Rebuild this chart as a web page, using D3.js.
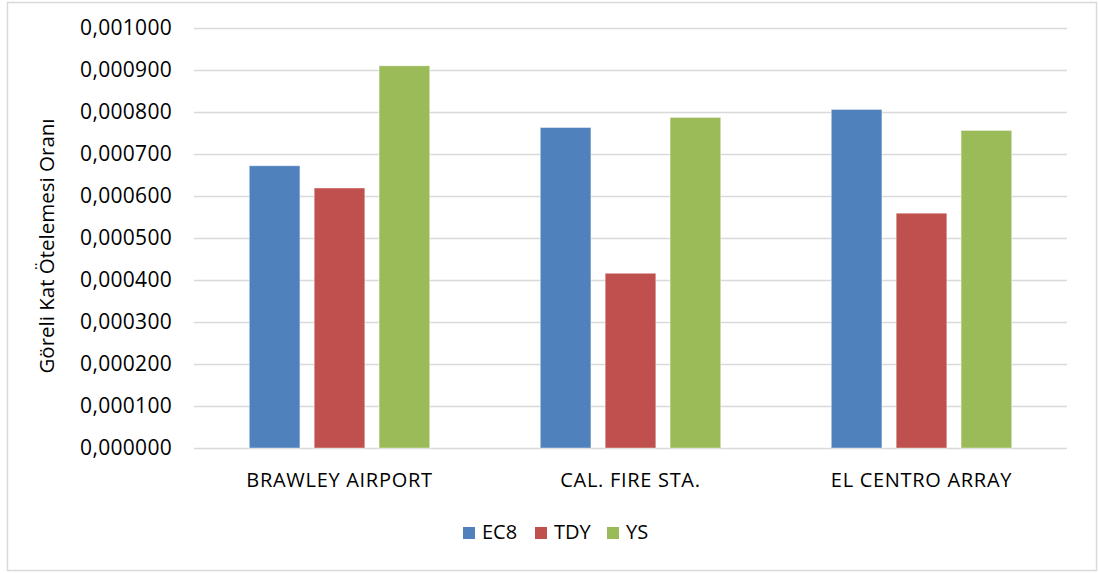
<!DOCTYPE html>
<html>
<head>
<meta charset="utf-8">
<script src="https://cdn.jsdelivr.net/npm/d3@7"></script>
<style>
  body { margin: 0; background: #fff; }
  svg { display: block; font-family: "Open Sans", "Liberation Sans", sans-serif; }
</style>
</head>
<body>
<div id="chart"></div>
<script>
// stations on the x axis
var categories = ["BRAWLEY AIRPORT", "CAL. FIRE STA.", "EL CENTRO ARRAY"];
var seriesNames = ["EC8", "TDY", "YS"];
// drift ratio per station
var ec8 = [0.000672, 0.000763, 0.000806];
var tdy = [0.000619, 0.000416, 0.000559];
var ys  = [0.000910, 0.000787, 0.000756];
var yTicks = [0, 0.0001, 0.0002, 0.0003, 0.0004, 0.0005, 0.0006, 0.0007, 0.0008, 0.0009, 0.001];
var colors = ["#4f81bd", "#c0504d", "#9bbb59"];

const width = 1099, height = 574;
var margin = {left: 194, right: 32, top: 28, bottom: 126};

var svg = d3.select("#chart").append("svg")
  .attr("width", width)
  .attr("height", height);

// outer chart border
svg.append("rect")
  .attr("x", 7.5).attr("y", 2.5)
  .attr("width", 1089).attr("height", 568)
  .attr("fill", "#fff")
  .attr("stroke", "#d9d9d9")
  .attr("stroke-width", 1.5);

var y = d3.scaleLinear()
  .domain([0, 0.001])
  .range([height - margin.bottom, margin.top]);

var x0 = d3.scaleBand()
  .domain(categories)
  .range([margin.left, width - margin.right])
  .padding(0);

var groupW = x0.bandwidth() * 0.62;
var x1 = d3.scaleBand()
  .domain(seriesNames)
  .range([0, groupW])
  .paddingInner(0.22);

// gridlines
svg.append("g")
  .selectAll("line")
  .data(yTicks)
  .enter().append("line")
  .attr("x1", margin.left)
  .attr("x2", width - margin.right)
  .attr("y1", function(d){ return Math.round(y(d)) + 0.5; })
  .attr("y2", function(d){ return Math.round(y(d)) + 0.5; })
  .attr("stroke", "#d9d9d9")
  .attr("stroke-width", 1.5);

// y tick labels
svg.append("g")
  .selectAll("text")
  .data(yTicks)
  .enter().append("text")
  .attr("x", 172)
  .attr("y", function(d){ return y(d); })
  .attr("dy", "0.35em")
  .attr("text-anchor", "end")
  .attr("font-size", 21)
  .attr("letter-spacing", 0.3)
  .attr("fill", "#000")
  .text(function(d){ return d.toFixed(6).replace(".", ","); });

var rows = categories.map(function(c, i){
  return {cat: c, vals: [ec8[i], tdy[i], ys[i]]};
});

var groups = svg.append("g")
  .selectAll("g")
  .data(rows)
  .enter().append("g")
  .attr("transform", function(d){
    return "translate(" + (x0(d.cat) + (x0.bandwidth() - groupW) / 2) + ",0)";
  });

groups.selectAll("rect")
  .data(function(d){ return d.vals.map(function(v, j){ return {name: seriesNames[j], v: v, j: j}; }); })
  .enter().append("rect")
  .attr("x", function(d){ return x1(d.name); })
  .attr("width", x1.bandwidth())
  .attr("y", function(d){ return y(d.v); })
  .attr("height", function(d){ return y(0) - y(d.v); })
  .attr("fill", function(d){ return colors[d.j]; })
  .attr("stroke", "#fff")
  .attr("stroke-opacity", 0.4)
  .attr("stroke-width", 1);

// category labels
svg.append("g")
  .selectAll("text")
  .data(categories)
  .enter().append("text")
  .attr("x", function(d){ return x0(d) + x0.bandwidth() / 2; })
  .attr("y", 487)
  .attr("text-anchor", "middle")
  .attr("font-size", 20)
  .attr("letter-spacing", 0.7)
  .attr("fill", "#000")
  .text(function(d){ return d; });

// y axis title
svg.append("text")
  .attr("transform", "translate(54," + 246 + ") rotate(-90)")
  .attr("text-anchor", "middle")
  .attr("font-size", 20.5)
  .attr("fill", "#000")
  .text("Göreli Kat Ötelemesi Oranı");

// legend
var legendX = [463, 535, 607];
var legend = svg.append("g")
  .selectAll("g")
  .data(seriesNames)
  .enter().append("g")
  .attr("transform", function(d, i){ return "translate(" + legendX[i] + ",527)"; });

legend.append("rect")
  .attr("width", 12).attr("height", 12)
  .attr("fill", function(d, i){ return colors[i]; });

legend.append("text")
  .attr("x", 19)
  .attr("y", 12)
  .attr("font-size", 20)
  .attr("fill", "#000")
  .text(function(d){ return d; });
</script>
</body>
</html>
